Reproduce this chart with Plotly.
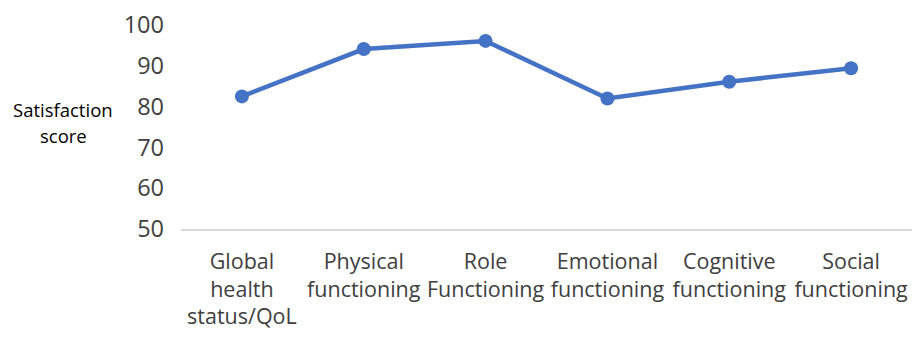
import plotly.graph_objects as go

categories = ["Global<br>health<br>status/QoL", "Physical<br>functioning", "Role<br>Functioning",
              "Emotional<br>functioning", "Cognitive<br>functioning", "Social<br>functioning"]
scores = [82.5, 94.1, 96.1, 82.0, 86.1, 89.4]
y_ticks = [50, 60, 70, 80, 90, 100]

fig = go.Figure()
fig.add_trace(go.Scatter(
    x=list(range(len(categories))), y=scores, mode="lines+markers",
    line=dict(color="#4472C4", width=4.5),
    marker=dict(color="#4472C4", size=14),
    showlegend=False, cliponaxis=False,
))

FONT = "'Open Sans', Lato, sans-serif"
fig.update_layout(
    width=920, height=338,
    margin=dict(l=181, r=8, t=18, b=109),
    paper_bgcolor="white", plot_bgcolor="white",
    font=dict(family=FONT, color="#404040"),
    xaxis=dict(range=[-0.5, len(categories) - 0.5],
               tickvals=list(range(len(categories))), ticktext=categories,
               showgrid=False, showline=True, linecolor="#d9d9d9", linewidth=1.5,
               ticks="", tickfont=dict(size=21.5, color="#404040"), zeroline=False,
               ticklabelstandoff=12),
    yaxis=dict(range=[50, 100], tickvals=y_ticks, showgrid=False, showline=False,
               zeroline=False, ticks="", ticklabelstandoff=16,
               tickfont=dict(size=23.5, color="#404040")),
)
fig.add_annotation(text="Satisfaction", xref="paper", yref="paper",
                   x=-0.161, y=(229 - 105) / 211, xanchor="center", yanchor="middle",
                   showarrow=False, font=dict(size=18.5, color="#000000", family=FONT))
fig.add_annotation(text="score", xref="paper", yref="paper",
                   x=-0.161, y=(229 - 132) / 211, xanchor="center", yanchor="middle",
                   showarrow=False, font=dict(size=18.5, color="#000000", family=FONT))
fig.write_html("out.html")
